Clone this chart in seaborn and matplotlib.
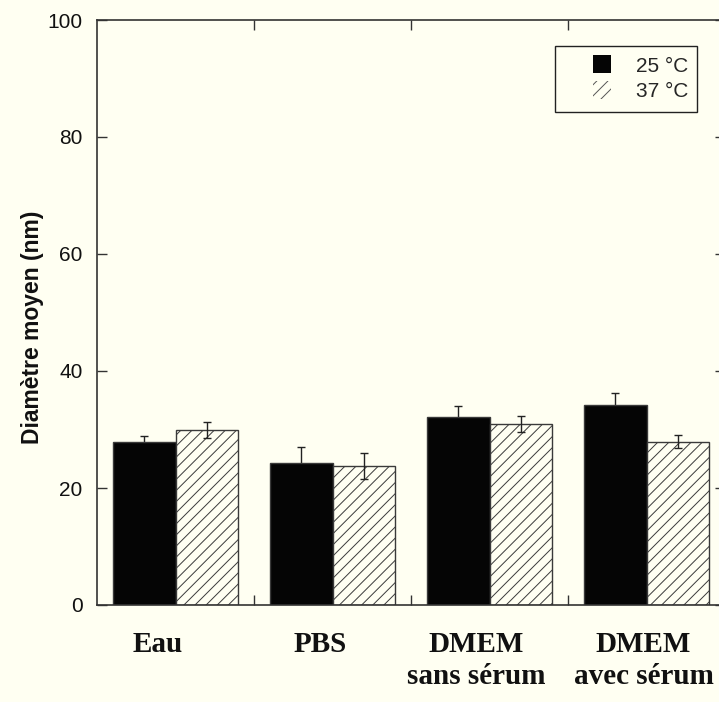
import matplotlib.pyplot as plt
import matplotlib.transforms as mtransforms
from matplotlib.patches import Patch, Rectangle
import seaborn as sns
import pandas as pd

# Data
milieux = ["Eau", "PBS", "DMEM\nsans sérum", "DMEM\navec sérum"]
temperatures = ["25 °C", "37 °C"]
diam_25 = [27.9, 24.3, 32.1, 34.2]
diam_37 = [29.9, 23.8, 30.9, 27.9]
err_25 = [1.0, 2.7, 2.0, 2.1]
err_37 = [1.3, 2.2, 1.35, 1.1]

df = pd.DataFrame({
    'Milieu': milieux * 2,
    'Temp': [temperatures[0]] * 4 + [temperatures[1]] * 4,
    'Diam': diam_25 + diam_37,
})

bg = '#fffff2'
label_dx = [-18, -12, -13, -3]  # small horizontal nudges of the category labels (px)

sns.set_style('ticks')
plt.rcParams['font.family'] = ['Liberation Sans', 'DejaVu Sans']
plt.rcParams['hatch.linewidth'] = 0.7

fig = plt.figure(figsize=(7.19, 7.02), dpi=100, facecolor=bg)
ax = fig.add_axes([97 / 719, 97 / 702, 628 / 719, 585 / 702])
ax.set_facecolor(bg)

sns.barplot(
    data=df, x='Milieu', y='Diam', hue='Temp',
    order=milieux, hue_order=temperatures,
    palette=['#050505', bg], saturation=1,
    errorbar=None, width=0.8,
    edgecolor='#3a3a3a', linewidth=1.0,
    legend=False, ax=ax
)

bars_25, bars_37 = ax.containers[0], ax.containers[1]
for bar in bars_25:
    bar.set_zorder(2)
for bar in bars_37:
    bar.set_hatch('///')
    bar.set_zorder(2)

# Error bars: behind the black bars, on top of the hatched ones
for cont, errs, z in zip([bars_25, bars_37], [err_25, err_37], [1.5, 3]):
    xs = [b.get_x() + b.get_width() / 2 for b in cont]
    ys = [b.get_height() for b in cont]
    ax.errorbar(xs, ys, yerr=errs, fmt='none', ecolor='#222222',
                elinewidth=1.0, capsize=3, capthick=1.0, zorder=z)

# Axes
ax.set_xlim(-0.5, 3.5)
ax.set_ylim(0, 100)
ax.set_yticks(range(0, 101, 20))
ax.tick_params(axis='y', which='major', direction='in', left=True, right=True,
               length=7, width=1, labelsize=15, pad=10.5, color='#333333',
               labelcolor='#111111')
ax.set_xticks([0.5, 1.5, 2.5], minor=True)
ax.tick_params(axis='x', which='minor', direction='in', top=True, bottom=True,
               length=7, width=1, color='#333333')
ax.tick_params(axis='x', which='major', length=0, pad=19)
ax.set_xticks(range(len(milieux)))
ax.set_xticklabels(milieux, fontfamily=['Liberation Serif'], fontweight='bold',
                   fontsize=21, color='#111111')
for lab, dx in zip(ax.get_xticklabels(), label_dx):
    lab.set_transform(lab.get_transform() +
                      mtransforms.ScaledTranslation(dx / 100, 0, fig.dpi_scale_trans))
ax.set_xlabel('')
ax.set_ylabel('Diamètre moyen (nm)', fontsize=16.5, fontweight='bold', color='#111111')
ax.yaxis.set_label_coords(-0.084, 0.475)

for s in ax.spines.values():
    s.set_visible(True)
    s.set_color('#333333')
    s.set_linewidth(1.2)
    s.set_zorder(4)

# Legend
handles = [
    Patch(facecolor='#050505', edgecolor='none'),
    Patch(facecolor=bg, edgecolor='#555555', hatch='///', linewidth=0),
]
ax.add_patch(Rectangle((0.7293, 0.8427), 0.9554 - 0.7293, 0.9556 - 0.8427,
                       transform=ax.transAxes, facecolor=bg, edgecolor='#222222',
                       linewidth=1.0, zorder=4))
ax.legend(handles, temperatures, loc='upper left', bbox_to_anchor=(0.7898, 0.9395),
          frameon=False, borderpad=0, borderaxespad=0, handlelength=0.87,
          handleheight=0.95, handletextpad=1.2, labelspacing=0.25, fontsize=15)

fig.savefig('out.png', dpi=100, facecolor=bg)
